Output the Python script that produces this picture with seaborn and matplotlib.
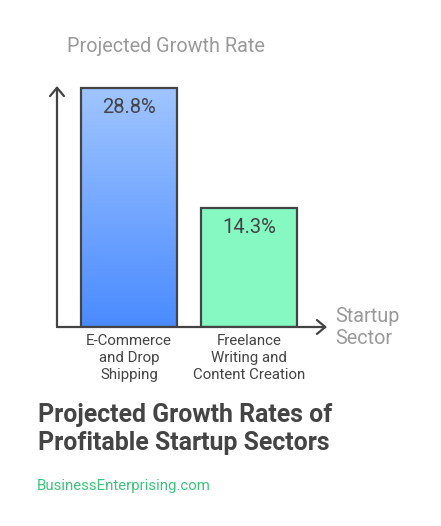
import matplotlib.pyplot as plt
import seaborn as sns
import numpy as np
import pandas as pd
from matplotlib.colors import LinearSegmentedColormap

# chart data
sectors = ["E-Commerce\nand Drop\nShipping", "Freelance\nWriting and\nContent Creation"]
growth = [28.8, 14.3]
value_labels = ["28.8%", "14.3%"]

sns.set_style("white")
plt.rcParams['font.family'] = ['Roboto', 'DejaVu Sans']

dark = "#444444"
gray = "#9A9A9A"

fig = plt.figure(figsize=(4.41, 5.26), dpi=100)
ax = fig.add_axes([57 / 441, 199 / 526, 270 / 441, 241 / 526])

df = pd.DataFrame({"sector": sectors, "growth": growth})
sns.barplot(data=df, x="sector", y="growth", ax=ax, width=0.8,
            color="#86F9C2", saturation=1, edgecolor=dark, linewidth=1.6)

# gradient fill for the first bar
bar = ax.patches[0]
bar.set_facecolor("none")
x0, y0 = bar.get_x(), bar.get_y()
w, h = bar.get_width(), bar.get_height()
cmap = LinearSegmentedColormap.from_list("blue", ["#4A8BFF", "#A0C5FF"])
grad = np.linspace(0, 1, 256).reshape(-1, 1)
img = ax.imshow(grad, cmap=cmap, origin="lower", aspect="auto",
                extent=(x0, x0 + w, y0, y0 + h), zorder=bar.get_zorder() - 0.1)
img.set_clip_path(bar)
ax.set_xlim(-0.6, 1.65)
ax.set_ylim(0, 29.04)

for p, lab in zip(ax.patches, value_labels):
    ax.annotate(lab, (p.get_x() + p.get_width() / 2, p.get_height()),
                xytext=(0, -7), textcoords="offset points",
                ha="center", va="top", fontsize=14.5, color=dark)

for s in ax.spines.values():
    s.set_visible(False)
ax.set_yticks([])
ax.set_xlabel("")
ax.set_ylabel("")
ax.tick_params(axis="x", length=0, pad=5, labelsize=10.8, labelcolor=dark)
for t in ax.get_xticklabels():
    t.set_linespacing(1.28)

# axis arrows
arrow = dict(arrowstyle="->,head_length=0.6,head_width=0.5", color=dark,
             lw=1.6, shrinkA=0, shrinkB=0, mutation_scale=10)
ax.annotate("", xy=(0, 1), xytext=(0, 0), xycoords="axes fraction",
            arrowprops=arrow, annotation_clip=False)
ax.annotate("", xy=(1, 0), xytext=(0, 0), xycoords="axes fraction",
            arrowprops=arrow, annotation_clip=False)

fig.text(67 / 441, 1 - 47 / 526, "Projected Growth Rate", fontsize=14.3,
         color=gray, va="center", ha="left")
fig.text(335 / 441, 1 - 328 / 526, "Startup\nSector", fontsize=14.3,
         color=gray, va="center", ha="left", linespacing=1.2)

fig.text(38 / 441, 1 - 429 / 526, "Projected Growth Rates of\nProfitable Startup Sectors",
         fontsize=17.9, fontweight="bold", color=dark, va="center", ha="left",
         linespacing=1.22)
fig.text(37 / 441, 1 - 486 / 526, "BusinessEnterprising.com", fontsize=10.8,
         color="#3CC47C", va="center", ha="left")

fig.savefig("out.png", dpi=100)
